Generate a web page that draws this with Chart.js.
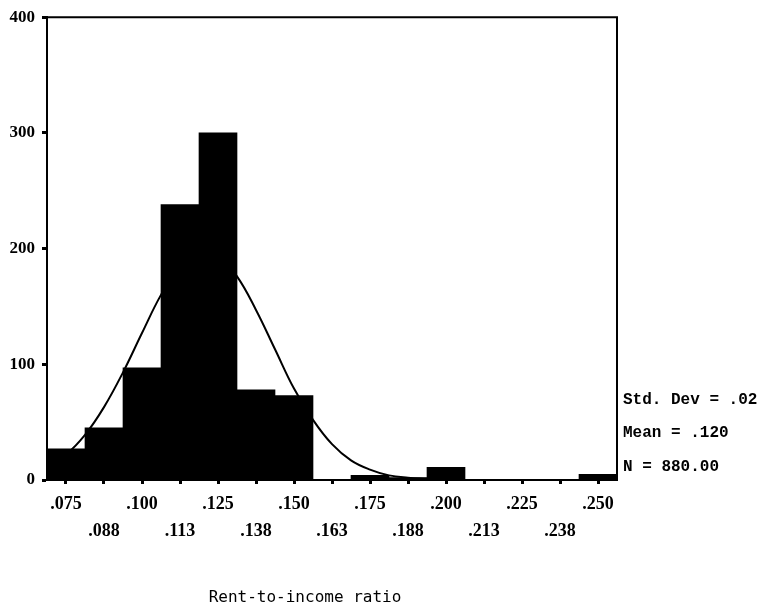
<!DOCTYPE html>
<html>
<head>
<meta charset="utf-8">
<script src="https://cdn.jsdelivr.net/npm/chart.js@4/dist/chart.umd.min.js"></script>
<style>
  body { margin: 0; background: #fff; }
  canvas { display: block; }
</style>
</head>
<body>
<canvas id="histChart" width="765" height="612"></canvas>
<script>
// histogram bins (centres) and counts
var binCenters = [0.075, 0.0875, 0.1, 0.1125, 0.125, 0.1375, 0.15, 0.1625, 0.175, 0.1875, 0.2, 0.2125, 0.225, 0.2375, 0.25];
var counts = [27, 45, 97, 238, 300, 78, 73, 0, 4, 2, 11, 0, 0, 0, 5];

// normal curve
var curveX = [0.06875, 0.075, 0.08125, 0.0875, 0.09375, 0.1, 0.10625, 0.1125, 0.11875, 0.125, 0.13125, 0.1375, 0.14375, 0.15, 0.15625, 0.1625, 0.16875, 0.175, 0.18125, 0.1875, 0.19375, 0.2];
var curveY = [12, 22, 39, 63, 93, 127, 160, 185, 197, 194, 176, 147, 113, 79, 52, 31, 17, 9, 4, 2, 1, 0];

// tick values and labels
var xTickValues = [0.075, 0.0875, 0.1, 0.1125, 0.125, 0.1375, 0.15, 0.1625, 0.175, 0.1875, 0.2, 0.2125, 0.225, 0.2375, 0.25];
var xTickLabels = ['.075', '.088', '.100', '.113', '.125', '.138', '.150', '.163', '.175', '.188', '.200', '.213', '.225', '.238', '.250'];
var yTicks = [0, 100, 200, 300, 400];

var statsLines = ['Std. Dev = .02', 'Mean = .120', 'N = 880.00'];
var xTitle = 'Rent-to-income ratio';

var barPoints = binCenters.map(function (c, i) { return { x: c, y: counts[i] }; });
var curvePoints = curveX.map(function (c, i) { return { x: c, y: curveY[i] }; });

// frame (top + right) and extra text
var framePlugin = {
  id: 'frame',
  afterDraw: function (chart) {
    var ctx = chart.ctx;
    var a = chart.chartArea;
    ctx.save();
    ctx.strokeStyle = '#000';
    ctx.lineWidth = 2;
    ctx.beginPath();
    ctx.moveTo(a.left, a.top);
    ctx.lineTo(a.right, a.top);
    ctx.lineTo(a.right, a.bottom);
    ctx.stroke();

    ctx.fillStyle = '#000';
    ctx.textBaseline = 'middle';
    ctx.textAlign = 'left';
    ctx.font = 'bold 16px "Liberation Mono"';
    var ys = [400, 433, 467];
    for (var i = 0; i < statsLines.length; i++) {
      ctx.fillText(statsLines[i], a.right + 6, ys[i]);
    }

    ctx.textAlign = 'center';
    ctx.font = '16px "DejaVu Sans Mono"';
    ctx.fillText(xTitle, 305, 598);
    ctx.restore();
  }
};

var ctx = document.getElementById('histChart').getContext('2d');
var chart = new Chart(ctx, {
  type: 'bar',
  data: {
    datasets: [{
      type: 'line',
      data: curvePoints,
      borderColor: '#000',
      borderWidth: 2,
      pointRadius: 0,
      tension: 0.4,
      fill: false
    }, {
      type: 'bar',
      data: barPoints,
      backgroundColor: '#000',
      borderWidth: 0,
      barPercentage: 1,
      categoryPercentage: 1
    }]
  },
  options: {
    responsive: false,
    animation: false,
    devicePixelRatio: 1,
    layout: { padding: { top: 12, right: 148, left: 0, bottom: 0 } },
    plugins: {
      legend: { display: false },
      tooltip: { enabled: false }
    },
    scales: {
      x: {
        type: 'linear',
        min: 0.06875,
        max: 0.25625,
        offset: false,
        grid: { offset: false, drawOnChartArea: false, drawTicks: true, tickLength: 4, tickWidth: 3, tickColor: '#000' },
        border: { color: '#000', width: 2 },
        afterBuildTicks: function (scale) {
          scale.ticks = xTickValues.map(function (v) { return { value: v }; });
        },
        afterFit: function (scale) { scale.height = 132; },
        ticks: {
          autoSkip: false,
          maxRotation: 0,
          minRotation: 0,
          padding: 7,
          color: '#000',
          font: { family: '"Liberation Serif"', size: 18, weight: 'bold', lineHeight: 1.5 },
          callback: function (value, index) {
            var lab = xTickLabels[index];
            return index % 2 === 0 ? [lab, ''] : ['', lab];
          }
        }
      },
      y: {
        min: 0,
        max: 400,
        grid: { drawOnChartArea: false, drawTicks: true, tickLength: 5, tickWidth: 3, tickColor: '#000' },
        border: { color: '#000', width: 2 },
        afterBuildTicks: function (scale) {
          scale.ticks = yTicks.map(function (v) { return { value: v }; });
        },
        afterFit: function (scale) { scale.width = 47; },
        ticks: {
          padding: 7,
          color: '#000',
          font: { family: '"Liberation Serif"', size: 17, weight: 'bold' }
        }
      }
    }
  },
  plugins: [framePlugin]
});
</script>
</body>
</html>
